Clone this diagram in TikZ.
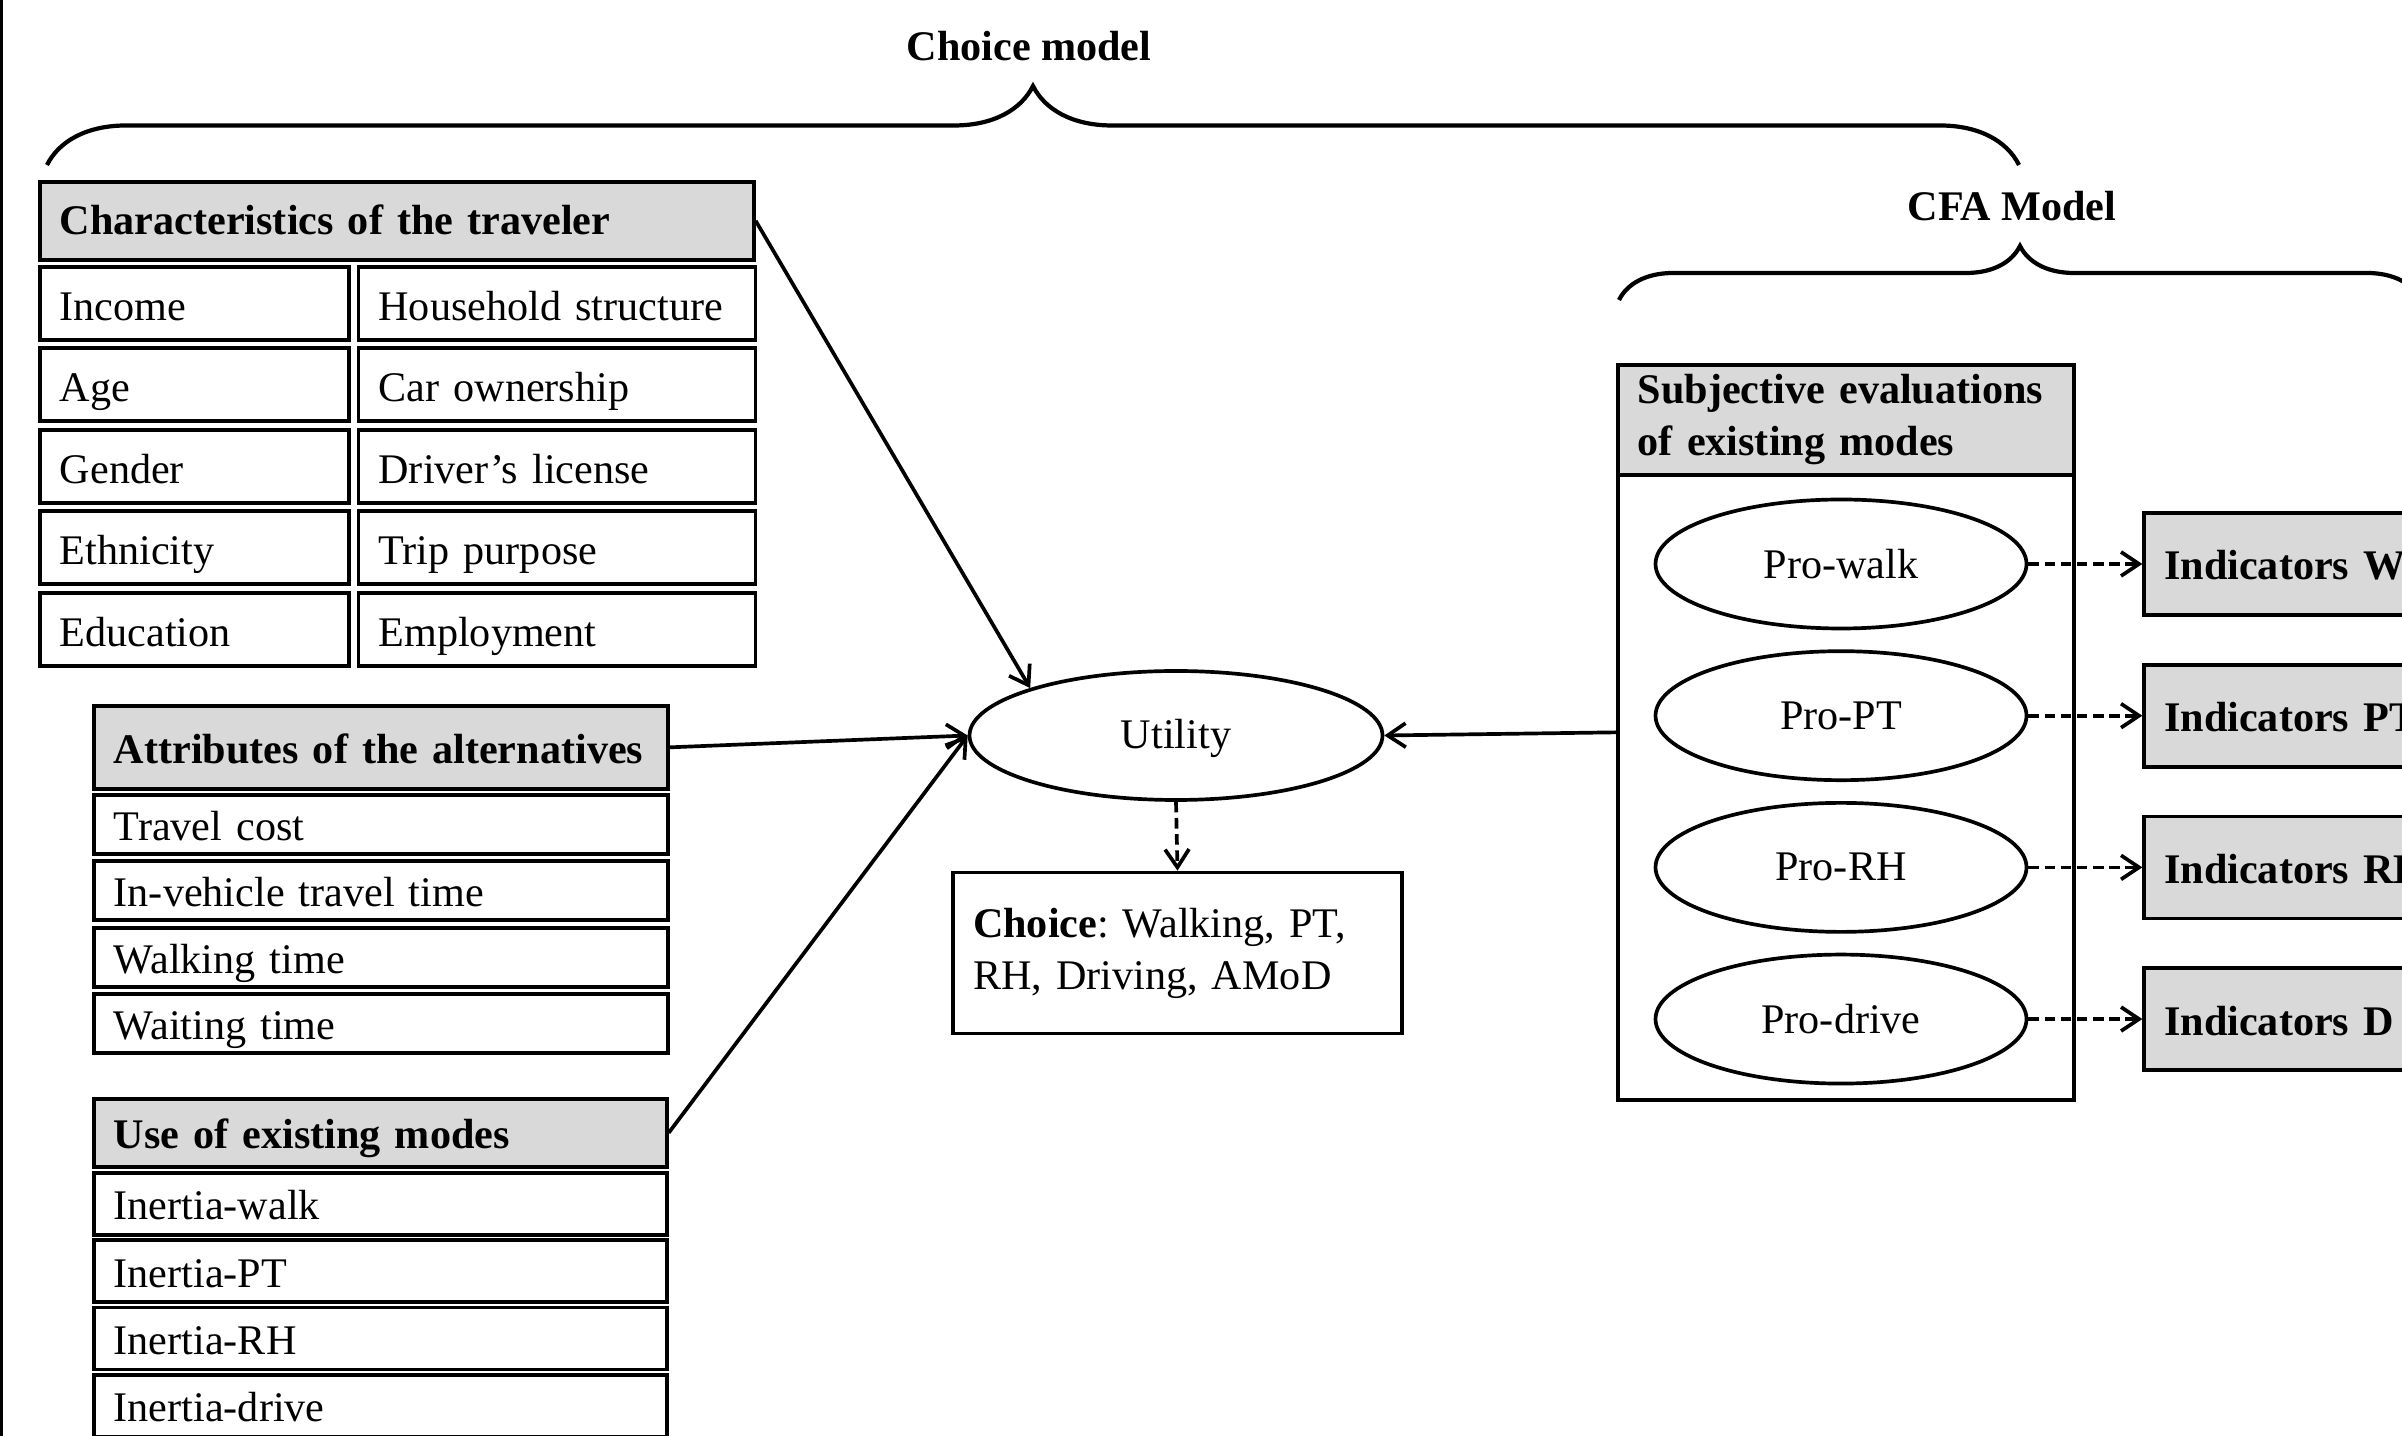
\documentclass[tikz,border=0pt]{standalone}
\usepackage{fontspec}
\setmainfont{Liberation Serif}
\usetikzlibrary{positioning, arrows.meta, shapes.geometric, decorations.pathreplacing}
\definecolor{hdrgray}{RGB}{217,217,217}
\tikzset{>={Straight Barb[length=1.8mm, width=2.4mm]},
  head/.style={draw, fill=hdrgray, anchor=north west, inner xsep=0.2cm, inner ysep=0pt, align=left, font=\bfseries},
  cell/.style={draw, anchor=north west, inner xsep=0.2cm, inner ysep=0pt, align=left},
  lift/.style={text height=#1, text depth=0.1cm},
  latent/.style={draw, ellipse, inner sep=0pt, minimum width=3.71cm, minimum height=1.29cm},
  arr/.style={->},
  darr/.style={->, dash pattern=on 3pt off 1.6pt},
  curly/.style={decorate, decoration={brace, amplitude=#1}, line width=1.2pt}}

\begin{document}
\frenchspacing
\fontsize{12}{14.8}\selectfont
\begin{tikzpicture}[line width=1.05pt]
    \clip (0,0) rectangle (24.02,-14.36);
    \draw[line width=1pt] (0.015,0) -- (0.015,-14.36);

    % choice model
    \node[font=\bfseries] (cmlabel) at (10.29,-0.46) {Choice model};
    \draw[curly=0.79cm] (0.47,-1.65) -- (20.19,-1.65);

    \node[head, lift=0.38cm, text width=6.74cm, minimum height=0.78cm] (trav) at (0.38,-1.80) {Characteristics of the traveler};
    \foreach \a/\b [count=\i] in {Income/Household structure, Age/Car ownership,
        Gender/Driver’s license, Ethnicity/Trip purpose, Education/Employment} {
        \node[cell, lift=0.44cm, text width=2.69cm, minimum height=0.73cm] (travl\i) at (0.38,{-2.65-0.815*(\i-1)}) {\a};
        \node[cell, lift=0.44cm, text width=3.57cm, minimum height=0.73cm, right=0.06cm of travl\i] (travr\i) {\b};
    }

    \node[head, lift=0.42cm, text width=5.34cm, minimum height=0.83cm] (alt) at (0.92,-7.04) {Attributes of the alternatives};
    \foreach \t [count=\i] in {Travel cost, In-vehicle travel time, Walking time, Waiting time}
        \node[cell, lift=0.42cm, text width=5.34cm, minimum height=0.59cm] (alt\i) at (0.92,{-7.93-0.665*(\i-1)}) {\t};

    \node[head, lift=0.42cm, text width=5.33cm, minimum height=0.68cm] (use) at (0.92,-10.97) {Use of existing modes};
    \foreach \t [count=\i] in {Inertia-walk, Inertia-PT, Inertia-RH, Inertia-drive}
        \node[cell, lift=0.42cm, text width=5.33cm, minimum height=0.62cm] (use\i) at (0.92,{-11.71-0.673*(\i-1)}) {\t};

    \node[latent, minimum width=4.13cm, lift=0.36cm] (util) at (11.76,-7.355) {Utility};
    \node[draw, text width=4.09cm, inner xsep=0.2cm, minimum height=1.61cm, align=left] (choice) at (11.775,-9.53) {\textbf{Choice}: Walking, PT,\\RH, Driving, AMoD};

    % CFA model
    \node[font=\bfseries] (cfalabel) at (20.12,-2.06) {CFA Model};
    \draw[curly=0.54cm] (16.19,-3.00) -- (24.21,-3.00);

    \node[draw, anchor=north west, minimum width=4.56cm, minimum height=7.35cm, inner sep=0pt] (subj) at (16.16,-3.63) {};
    \node[head, text width=4.16cm, minimum height=1.10cm] (subjhd) at (subj.north west) {Subjective evaluations\\of existing modes};

    \node[latent] (pwalk) at (18.41,-5.64) {Pro-walk};
    \node[latent, below=0.19cm of pwalk] (ppt) {Pro-PT};
    \node[latent, below=0.19cm of ppt] (prh) {Pro-RH};
    \node[latent, below=0.19cm of prh] (pdrive) {Pro-drive};

    \node[head, lift=0.42cm, text width=3cm, minimum height=1.02cm, right=1.14cm of pwalk] (indw) {Indicators W};
    \node[head, lift=0.42cm, text width=3cm, minimum height=1.02cm, right=1.14cm of ppt] (indpt) {Indicators PT};
    \node[head, lift=0.42cm, text width=3cm, minimum height=1.02cm, right=1.14cm of prh] (indrh) {Indicators RH};
    \node[head, lift=0.42cm, text width=3cm, minimum height=1.02cm, right=1.14cm of pdrive] (indd) {Indicators D};

    % paths
    \draw[arr] (trav.east) -- (util.162);
    \draw[arr] (alt.east) -- (util.west);
    \draw[arr] (use.east) -- (util.west);
    \draw[arr] (subj.west) -- (util.east);
    \draw[darr] (util.south) -- (choice.north);
    \foreach \p/\q in {pwalk/indw, ppt/indpt, prh/indrh, pdrive/indd}
        \draw[darr] (\p) -- (\q);
\end{tikzpicture}
\end{document}
